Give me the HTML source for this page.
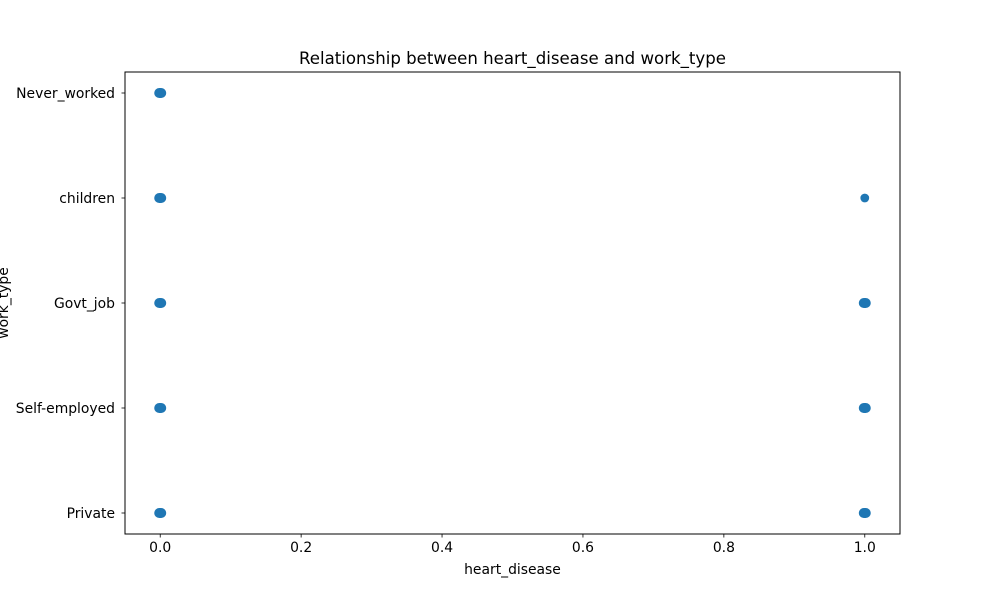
<!DOCTYPE html>
<html><head><meta charset="utf-8"><style>
html,body{margin:0;padding:0;background:#fff;}
svg text{font-family:"DejaVu Sans","Liberation Sans",sans-serif;fill:#000;}
</style></head><body>
<svg id="chart" width="1000" height="600" viewBox="0 0 1000 600">
<rect width="1000" height="600" fill="#fff"/>
<text x="512.5" y="64" text-anchor="middle" font-size="16.6">Relationship between heart_disease and work_type</text>
<g id="xticks"></g>
<g id="yticks"></g>
<g id="points"></g>
<rect x="125" y="72" width="775" height="462" fill="none" stroke="#000" stroke-width="1"/>
<text x="512.5" y="574" text-anchor="middle" font-size="13.9">heart_disease</text>
<text transform="translate(8,303) rotate(-90)" text-anchor="middle" font-size="13.9">work_type</text>
</svg>
<script>
const categories = ["Private","Self-employed","Govt_job","children","Never_worked"];
const xTicks = [0.0,0.2,0.4,0.6,0.8,1.0];
const pointX = [0,0,0,0,0,1,1,1,1];
const pointCat = ["Private","Self-employed","Govt_job","children","Never_worked","Private","Self-employed","Govt_job","children"];
const pointCount = [2,2,2,2,2,2,2,2,1];

const L=125,R=900,T=72,B=534;
const xs=v=>L+(v+0.05)/1.1*(R-L);
const ys=i=>B-(i+0.2)/4.4*(B-T);
const NS="http://www.w3.org/2000/svg";
function mk(tag,attrs,parent){const e=document.createElementNS(NS,tag);for(const k in attrs)e.setAttribute(k,attrs[k]);parent.appendChild(e);return e;}
const gx=document.getElementById('xticks'),gy=document.getElementById('yticks'),gp=document.getElementById('points');
xTicks.forEach(v=>{
  const x=xs(v);
  const l=mk('line',{x1:x,x2:x,y1:B,y2:B+3.5,stroke:'#000','stroke-width':0.8},gx);
  
  
  const t=mk('text',{x:x,y:B+18,'text-anchor':'middle','font-size':13.9},gx);
  t.textContent=v.toFixed(1);
  
  
});
categories.forEach((c,i)=>{
  const y=ys(i);
  const l=mk('line',{x1:L-3.5,x2:L,y1:y,y2:y,stroke:'#000','stroke-width':0.8},gy);
  
  
  const t=mk('text',{x:L-10,y:y+5,'text-anchor':'end','font-size':13.9},gy);
  t.textContent=c;
  
  
});
pointX.forEach((v,i)=>{
  const x=xs(v),y=ys(categories.indexOf(pointCat[i]));
  let e;
  if(pointCount[i]>1){
    e=mk('rect',{x:x-6,y:y-5,width:12,height:10,rx:5,ry:5,fill:'#1f77b4'},gp);
  } else {
    e=mk('circle',{cx:x,cy:y,r:4.4,fill:'#1f77b4'},gp);
  }
  
  
});
</script>
</body></html>
